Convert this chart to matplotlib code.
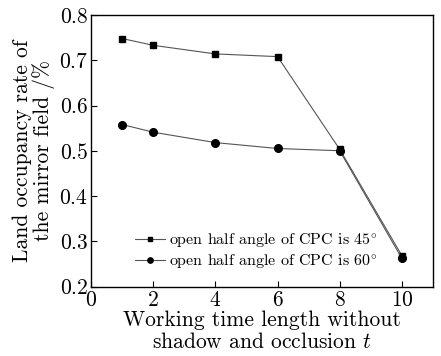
import matplotlib
matplotlib.use('Agg')
import matplotlib.pyplot as plt

plt.rcParams['font.family'] = ['cmr10', 'DejaVu Serif']
plt.rcParams['mathtext.fontset'] = 'cm'
plt.rcParams['axes.formatter.use_mathtext'] = True

hours = [1, 2, 4, 6, 8, 10]
rate_45 = [0.748, 0.733, 0.714, 0.708, 0.503, 0.268]
rate_60 = [0.558, 0.541, 0.518, 0.505, 0.500, 0.262]
labels = ['open half angle of CPC is 45$^{\\circ}$',
          'open half angle of CPC is 60$^{\\circ}$']

fig = plt.figure(figsize=(4.41, 3.56), dpi=100)
ax = fig.add_axes([91 / 441, 1 - 286.5 / 356, 342 / 441, 271.5 / 356])

ax.plot(hours, rate_45, color='#555555', lw=0.8, marker='s', ms=5,
        mfc='black', mec='black', label=labels[0])
ax.plot(hours, rate_60, color='#555555', lw=0.8, marker='o', ms=5.5,
        mfc='black', mec='black', label=labels[1])

ax.set_xlim(0, 11)
ax.set_ylim(0.2, 0.8)
ax.set_xticks([0, 2, 4, 6, 8, 10])
ax.set_yticks([0.2, 0.3, 0.4, 0.5, 0.6, 0.7, 0.8])
ax.tick_params(direction='in', length=4, width=0.8, labelsize=15.5, pad=2)
ax.tick_params(axis='x', pad=3)
for s in ax.spines.values():
    s.set_linewidth(1.0)

ax.set_xlabel('Working time length without\nshadow and occlusion $t$',
              fontsize=15.5, labelpad=0, linespacing=1.15)
ax.set_ylabel('Land occupancy rate of\nthe mirror field /%',
              fontsize=15.5, labelpad=3, linespacing=1.0)

leg = ax.legend(loc='lower left', bbox_to_anchor=(0.129, 0.057), frameon=False,
                handlelength=1.85, handletextpad=0.3, markerscale=0.7,
                labelspacing=0.15, borderpad=0, borderaxespad=0,
                prop={'family': ['cmr10', 'DejaVu Serif'], 'size': 11.5})

fig.savefig('out.png', dpi=100)
